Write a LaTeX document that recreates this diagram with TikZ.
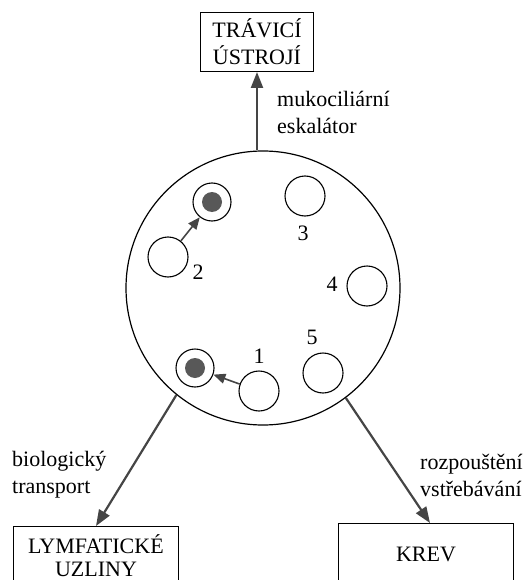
\documentclass[tikz,border=0pt]{standalone}
\usepackage{fontspec}
\setmainfont{Liberation Serif}
\usepackage{tikz}
\usetikzlibrary{arrows.meta, positioning, calc}
\usepackage{xcolor}
\definecolor{sipka}{HTML}{454545}

\tikzset{
	box/.style={draw, line width=1pt, align=center, inner sep=0pt},
	popis/.style={align=left, anchor=west, inner sep=0pt},
	bunka/.style={circle, draw, line width=1.1pt, minimum size=40pt, inner sep=0pt},
	pohlt/.style={circle, draw, line width=1.1pt, minimum size=38pt, inner sep=0pt},
	tok/.style={draw=sipka, line width=2.2pt, -{Triangle[length=16pt, width=12pt]}},
	tokm/.style={draw=sipka, line width=1.6pt, -{Triangle[length=12pt, width=10pt]}}
}

\begin{document}
\begin{tikzpicture}[x=1pt, y=-1pt, font=\fontsize{22}{27}\selectfont]
			\useasboundingbox (0,0) rectangle (522,580);

			% Alveol
			\node[circle, draw, line width=1.2pt, minimum size=274pt, inner sep=0pt] (alveol) at (263,288) {};

			% Bunky
			\node[pohlt] (f2) at (212,202) {};
			\fill[sipka!90] (f2) circle (10pt);
			\node[pohlt] (f1) at (195,368) {};
			\fill[sipka!90] (f1) circle (10pt);
			\node[bunka] (c2) at (168,257) {};
			\node[bunka] (c3) at (305,196) {};
			\node[bunka] (c4) at (367,286) {};
			\node[bunka] (c5) at (323,373) {};
			\node[bunka] (c1) at (259,391) {};
			\node (n1) at (259,356) {1};
			\node (n2) at (198,272) {2};
			\node (n3) at (303,233) {3};
			\node (n4) at (332,284) {4};
			\node (n5) at (312,337) {5};
			\draw[tokm] (c2) -- (f2);
			\draw[tokm] (c1) -- (f1);

			% Cile
			\node[box, minimum width=113pt, minimum height=59pt] (travici) at (257,42) {TRÁVICÍ\\ÚSTROJÍ};
			\node[box, anchor=north, minimum width=165pt, inner ysep=8pt, text depth=30pt, font=\fontsize{22}{23}\selectfont] (lymf) at (96,526) {LYMFATICKÉ\\UZLINY};
			\node[box, anchor=north, minimum width=175pt, inner ysep=8pt, text height=30pt, text depth=40pt] (krev) at (426,523) {KREV};

			% Sipky
			\draw[tok] (travici.south |- alveol.north) -- (travici.south);
			\draw[tok] (alveol.231) -- (lymf.north);
			\draw[tok] (alveol.307) -- ($(krev.north)+(4,0)$);

			\node[popis] (muko) at (277,112) {mukociliární\\eskalátor};
			\node[popis] (bio) at (12,475) {biologický\\transport};
			\node[popis] (rozp) at (420,475) {rozpouštění\\vstřebávání};
		\end{tikzpicture}
\end{document}
